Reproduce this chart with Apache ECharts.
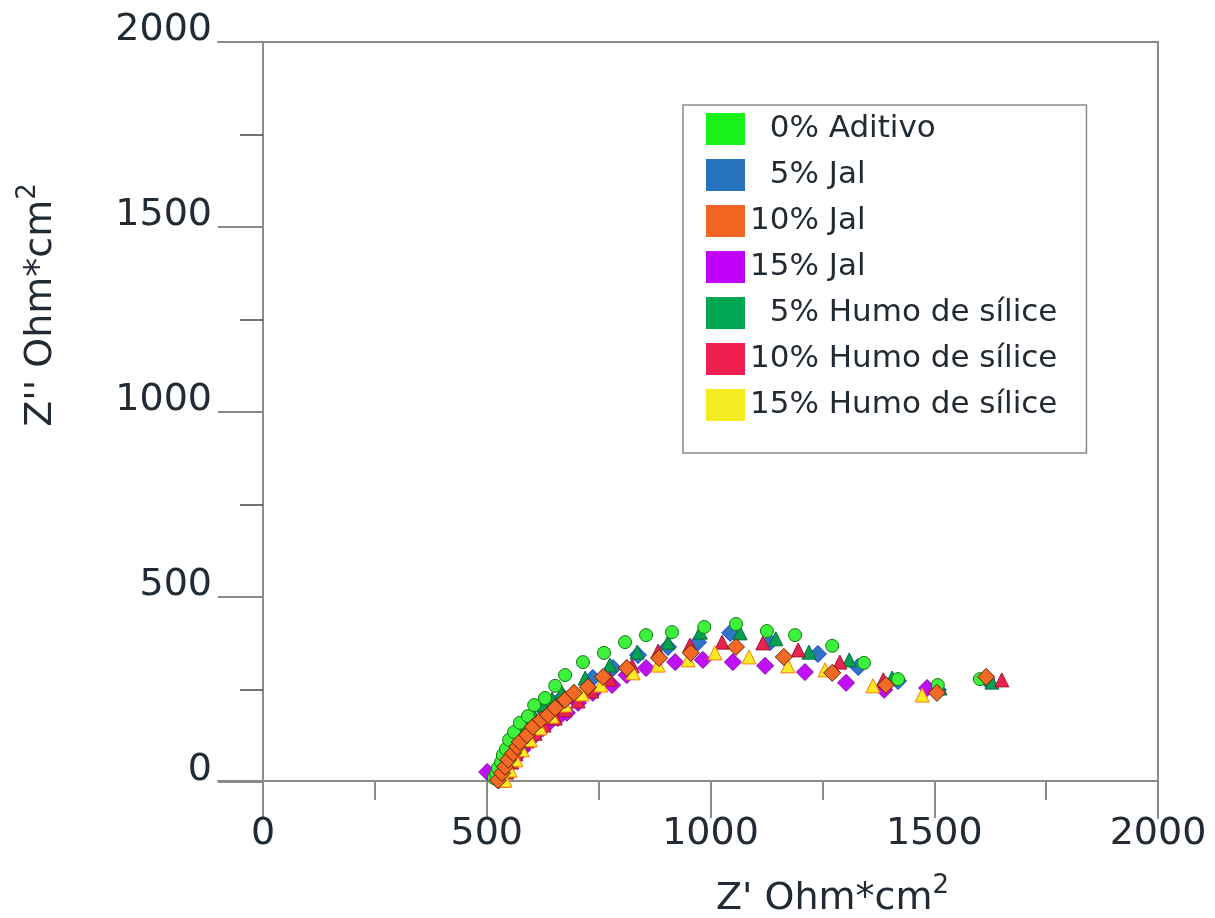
<!DOCTYPE html>
<html lang="es">
<head>
<meta charset="UTF-8">
<title>Nyquist</title>
<script src="https://cdn.jsdelivr.net/npm/echarts@6/dist/echarts.min.js"></script>
<style>html,body{margin:0;padding:0;background:#fff;overflow:hidden;}</style>
</head>
<body>
<div id="chart" style="width:1215px;height:918px;"></div>
<script>
var seriesNames = ['0% Aditivo', '5% Jal', '10% Jal', '15% Jal', '5% Humo de sílice', '10% Humo de sílice', '15% Humo de sílice'];
var tickLabels = [0, 500, 1000, 1500, 2000];

// [Z', Z''], Ohm*cm2
var aditivo0 = [[516,11],[521,22],[525,38],[532,54],[536,73],[543,89],[550,114],[561,135],[574,160],[592,178],[606,208],[630,227],[653,260],[675,289],[715,324],[762,349],[809,378],[856,397],[914,405],[986,419],[1057,427],[1126,408],[1189,397],[1272,368],[1343,322],[1419,278],[1508,262],[1602,278]];
var jal5 = [[527,5],[536,27],[545,51],[559,81],[572,108],[588,138],[606,168],[626,197],[646,216],[670,230],[737,281],[782,308],[838,343],[905,365],[972,378],[1044,403],[1133,378],[1240,346],[1330,311],[1419,273],[1508,249],[1616,278]];
var jal10 = [[525,5],[534,24],[541,41],[548,60],[559,78],[568,95],[574,108],[590,127],[603,149],[621,168],[637,181],[653,200],[675,222],[695,241],[726,257],[760,284],[813,308],[885,335],[956,349],[1057,365],[1164,338],[1272,295],[1392,262],[1506,241],[1616,284]];
var jal15 = [[501,27],[552,46],[565,68],[579,87],[592,108],[608,127],[626,146],[641,162],[659,173],[679,187],[704,214],[737,241],[780,262],[813,289],[856,308],[921,324],[983,330],[1050,324],[1122,314],[1211,297],[1303,268],[1388,249],[1484,254]];
var humo5 = [[530,11],[539,38],[548,65],[559,92],[572,122],[588,151],[606,178],[628,208],[646,224],[668,241],[720,281],[775,316],[836,351],[905,378],[977,405],[1066,403],[1146,387],[1220,351],[1310,330],[1406,281],[1513,254],[1629,270]];
var humo10 = [[536,5],[545,27],[556,54],[565,76],[574,97],[590,111],[608,132],[628,154],[653,173],[675,195],[704,219],[735,246],[775,278],[825,314],[883,354],[954,370],[1026,378],[1117,376],[1196,357],[1289,324],[1386,276],[1651,276]];
var humo15 = [[541,5],[552,32],[565,60],[579,87],[597,114],[619,146],[646,178],[675,208],[713,238],[755,262],[827,295],[883,316],[950,330],[1010,349],[1086,338],[1173,314],[1256,303],[1363,260],[1473,235]];

var seriesData = [aditivo0, jal5, jal10, jal15, humo5, humo10, humo15];

var markStyles = [
    {symbol: 'circle', size: 13, color: '#3cf23c', border: '#137a13', z: 3},
    {symbol: 'diamond', size: 17, color: '#2f76c2', border: '#1030ff', z: 2},
    {symbol: 'diamond', size: 17, color: '#f26a24', border: '#5a1e00', z: 4},
    {symbol: 'diamond', size: 17, color: '#c010f5', border: '#8a00b0', z: 2},
    {symbol: 'triangle', size: 14, color: '#05a050', border: '#00703a', z: 2},
    {symbol: 'triangle', size: 14, color: '#e6244f', border: '#a8123a', z: 2},
    {symbol: 'triangle', size: 14, color: '#f7ea26', border: '#ff7a00', z: 2}
];
var legendColors = ['#19f219', '#2672be', '#f26522', '#c000fa', '#00a651', '#ef2050', '#f2ec21'];

var font = 'DejaVu Sans';
var textColor = '#222b33';
var lineGrey = {color: '#8a8a8a', width: 2};
var noAxisBits = {axisTick: {show: false}, axisLabel: {show: false}, splitLine: {show: false}};

var dom = document.getElementById('chart');
var myChart = echarts.init(dom);

var series = seriesNames.map(function (name, i) {
    var st = markStyles[i];
    return {
        name: name,
        type: 'scatter',
        xAxisIndex: 2,
        yAxisIndex: 2,
        clip: false,
        z: st.z,
        symbol: st.symbol,
        symbolSize: st.size,
        itemStyle: {color: st.color, borderColor: st.border, borderWidth: 1, opacity: 1},
        data: seriesData[i]
    };
});

var titleRich = {
    sup: {fontSize: 26, fontFamily: font, color: textColor, verticalAlign: 'top', lineHeight: 26}
};

var option = {
    animation: false,
    backgroundColor: '#fff',
    textStyle: {fontFamily: font},
    grid: [
        {left: 218, right: 57, top: 42, bottom: 100, outerBoundsMode: 'none'},
        {left: 263, right: 57, top: 42, bottom: 136, outerBoundsMode: 'none'}
    ],
    legend: {
        orient: 'vertical',
        left: 683,
        top: 105,
        padding: [8, 29, 32, 23],
        itemWidth: 39,
        itemHeight: 32,
        itemGap: 14,
        borderColor: '#8a8a8a',
        borderWidth: 1.5,
        textStyle: {fontSize: 31, fontFamily: font, color: textColor, lineHeight: 32},
        formatter: function (name) {
            return /^\d%/.test(name) ? '  ' + name : name;
        },
        data: seriesNames.map(function (n, i) {
            return {name: n, icon: 'rect', itemStyle: {color: legendColors[i], borderWidth: 0}};
        })
    },
    xAxis: [
        Object.assign({gridIndex: 0, type: 'value', min: -100, max: 2000,
            axisLine: {show: true, onZero: true, lineStyle: lineGrey}}, noAxisBits),
        Object.assign({gridIndex: 0, type: 'value', min: -100, max: 2000, position: 'top',
            axisLine: {show: true, onZero: false, lineStyle: lineGrey}}, noAxisBits),
        {
            gridIndex: 1, type: 'value', min: 0, max: 2000, interval: 500,
            axisLine: {show: false},
            axisTick: {show: true, length: 36, lineStyle: lineGrey},
            minorTick: {show: true, splitNumber: 2, length: 18, lineStyle: lineGrey},
            splitLine: {show: false},
            axisLabel: {
                fontSize: 38, fontFamily: font, color: textColor, margin: 33,
                formatter: function (v) { return tickLabels.indexOf(v) >= 0 ? String(v) : ''; }
            },
            name: "Z' Ohm*cm{sup|2}",
            nameLocation: 'middle',
            nameGap: 91,
            nameTextStyle: {fontSize: 38, fontFamily: font, color: textColor, lineHeight: 52,
                padding: [0, 0, 0, 244], rich: titleRich}
        }
    ],
    yAxis: [
        Object.assign({gridIndex: 0, type: 'value', min: -100, max: 2000,
            axisLine: {show: true, onZero: true, lineStyle: lineGrey}}, noAxisBits),
        Object.assign({gridIndex: 0, type: 'value', min: -100, max: 2000, position: 'right',
            axisLine: {show: true, onZero: false, lineStyle: lineGrey}}, noAxisBits),
        {
            gridIndex: 1, type: 'value', min: 0, max: 2000, interval: 500,
            axisLine: {show: false},
            axisTick: {show: true, length: 45, lineStyle: lineGrey},
            minorTick: {show: true, splitNumber: 2, length: 23, lineStyle: {color: '#444', width: 1.5}},
            splitLine: {show: false},
            axisLabel: {
                fontSize: 38, fontFamily: font, color: textColor, margin: 51,
                verticalAlign: 'bottom', lineHeight: 24,
                formatter: function (v) { return tickLabels.indexOf(v) >= 0 ? String(v) : ''; }
            },
            name: "Z'' Ohm*cm{sup|2}",
            nameLocation: 'middle',
            nameRotate: 90,
            nameGap: 196,
            nameTextStyle: {fontSize: 38, fontFamily: font, color: textColor, lineHeight: 52,
                padding: [0, 0, 0, 214], rich: titleRich}
        }
    ],
    series: series
};

if (option && typeof option === 'object') {
    myChart.setOption(option, true);
}
</script>
</body>
</html>
